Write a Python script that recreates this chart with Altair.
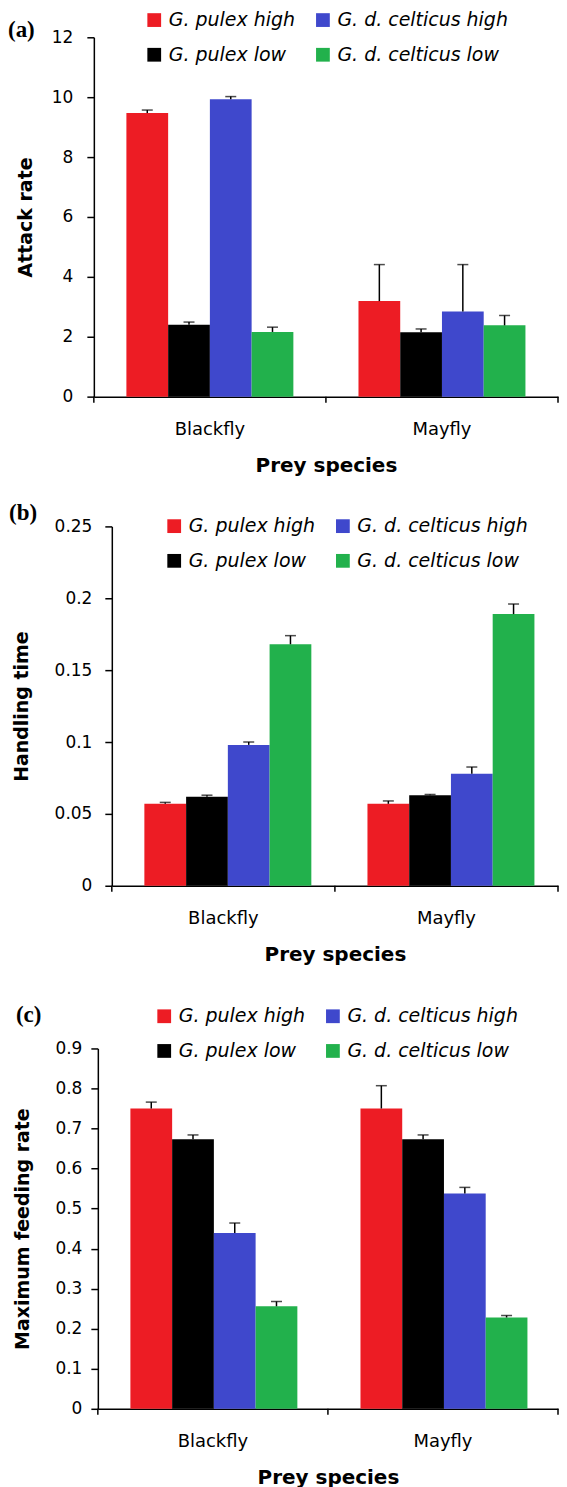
import altair as alt
import pandas as pd

prey = ["Blackfly", "Mayfly"]
groups = ["G. pulex high", "G. pulex low", "G. d. celticus high", "G. d. celticus low"]
group_colors = ["#ED1C24", "#000000", "#3F48CC", "#22B14C"]

# (a) Attack rate
attack_black = [9.47, 2.40, 9.93, 2.16]
attack_may = [3.19, 2.15, 2.84, 2.38]
attack_err_black = [0.10, 0.09, 0.09, 0.16]
attack_err_may = [1.22, 0.11, 1.57, 0.33]

# (b) Handling time
handling_black = [0.057, 0.062, 0.098, 0.168]
handling_may = [0.057, 0.063, 0.078, 0.189]
handling_err_black = [0.001, 0.001, 0.002, 0.006]
handling_err_may = [0.002, 0.0005, 0.0046, 0.007]

# (c) Maximum feeding rate
feeding_black = [0.750, 0.673, 0.439, 0.256]
feeding_may = [0.750, 0.673, 0.538, 0.228]
feeding_err_black = [0.016, 0.011, 0.025, 0.012]
feeding_err_may = [0.057, 0.011, 0.015, 0.005]

yticks_a = [0, 2, 4, 6, 8, 10, 12]
yticks_b = [0, 0.05, 0.1, 0.15, 0.2, 0.25]
yticks_c = [0, 0.1, 0.2, 0.3, 0.4, 0.5, 0.6, 0.7, 0.8, 0.9]

FONT = "DejaVu Sans"
H = 360
W = 465


def make_df(black, may, eb, em):
    rows = []
    for p, vals, errs in (("Blackfly", black, eb), ("Mayfly", may, em)):
        for g, v, e in zip(groups, vals, errs):
            rows.append({"prey": p, "group": g, "mean": v, "upper": v + e})
    return pd.DataFrame(rows)


def panel(df, label, ytitle, ydomain, yvals, shift, lab_x, lab_y, leg_x, leg_y,
          ylabpad, ytitlepad, colpad, sp_y, h=H):
    xscale = alt.Scale(paddingInner=0, paddingOuter=0, range=[shift, W])
    xaxis = alt.Axis(title="Prey species", labelAngle=0, ticks=False,
                     labelFont=FONT, labelFontSize=18, labelColor="black",
                     labelPadding=24, titleFont=FONT, titleFontSize=20,
                     titleFontWeight="bold", titleColor="black", titlePadding=17,
                     domainColor="black", domainWidth=1.5)
    yaxis = alt.Axis(title=ytitle, values=yvals, format="~g", grid=False,
                     offset=-shift,
                     labelFont=FONT, labelFontSize=17, labelColor="black",
                     labelPadding=ylabpad, tickSize=7, tickColor="black", tickWidth=1.5,
                     titleFont=FONT, titleFontSize=19, titleFontWeight="bold",
                     titleColor="black", titlePadding=ytitlepad,
                     domainColor="black", domainWidth=1.5)
    yscale = alt.Scale(domain=ydomain, nice=False, zero=True)
    x = alt.X("prey:N", sort=prey, scale=xscale, axis=xaxis)
    xo = alt.XOffset("group:N", sort=groups,
                     scale=alt.Scale(paddingInner=0, paddingOuter=0.78))
    base = alt.Chart(df)
    bars = base.mark_bar().encode(
        x=x, xOffset=xo,
        y=alt.Y("mean:Q", scale=yscale, axis=yaxis),
        color=alt.Color("group:N",
                        scale=alt.Scale(domain=groups, range=group_colors),
                        legend=alt.Legend(orient="none", legendX=leg_x, legendY=leg_y,
                                          columns=2, title=None, symbolType="square",
                                          symbolSize=190, symbolStrokeWidth=0,
                                          symbolOpacity=1,
                                          labelFont=FONT, labelFontStyle="italic",
                                          labelFontSize=19, labelColor="black",
                                          labelOffset=5, labelLimit=400,
                                          columnPadding=colpad, rowPadding=15,
                                          padding=0)),
    )
    err = base.mark_rule(color="black", strokeWidth=1.5).encode(
        x=x, xOffset=xo,
        y=alt.Y("mean:Q", scale=yscale, axis=yaxis), y2="upper:Q")
    cap = base.mark_tick(color="black", thickness=1.5, size=11,
                         orient="horizontal").encode(
        x=x, xOffset=xo, y=alt.Y("upper:Q", scale=yscale, axis=yaxis))
    tdf = pd.DataFrame({"prey": prey})
    xticks = alt.Chart(tdf).mark_rule(color="black", strokeWidth=1.5).encode(
        x=alt.X("prey:N", sort=prey, scale=xscale, axis=xaxis, bandPosition=0),
        y=alt.value(h), y2=alt.value(h + 6))
    edf = pd.DataFrame({"prey": prey[-1:]})
    xend = alt.Chart(edf).mark_rule(color="black", strokeWidth=1.5).encode(
        x=alt.X("prey:N", sort=prey, scale=xscale, axis=xaxis, bandPosition=1),
        y=alt.value(h), y2=alt.value(h + 6))
    ldf = pd.DataFrame({"label": [label]})
    lab = alt.Chart(ldf).mark_text(align="left", baseline="middle",
                                   font="Liberation Serif", fontWeight="bold",
                                   fontSize=23, color="black").encode(
        x=alt.value(lab_x), y=alt.value(lab_y), text="label:N")
    spacer = alt.Chart(ldf).mark_rule(opacity=0, strokeWidth=0.5).encode(
        x=alt.value(-86), y=alt.value(sp_y), y2=alt.value(sp_y + 1))
    return alt.layer(bars, err, cap, xticks, xend, lab, spacer).properties(width=W, height=h)


pa = panel(make_df(attack_black, attack_may, attack_err_black, attack_err_may),
           "(a)", "Attack rate", [0, 12], yticks_a, 0, -86, -7, 51, -27, 14, 16, 18, -28)
pb = panel(make_df(handling_black, handling_may, handling_err_black, handling_err_may),
           "(b)", "Handling time", [0, 0.25], yticks_b, 18, -85, -13, 71, -10, 13, 23, 18, -24)
pc = panel(make_df(feeding_black, feeding_may, feeding_err_black, feeding_err_may),
           "(c)", "Maximum feeding rate", [0, 0.9], yticks_c, 4, -78, -34, 61, -42, 9, 22, 18, -57,
           h=361)

chart = alt.vconcat(pa, pb, pc, spacing=27).resolve_scale(
    color="independent").resolve_legend(color="independent").properties(
    padding=0).configure_view(stroke=None)

chart.save("out.html", embed_options={"renderer": "svg", "actions": False})
